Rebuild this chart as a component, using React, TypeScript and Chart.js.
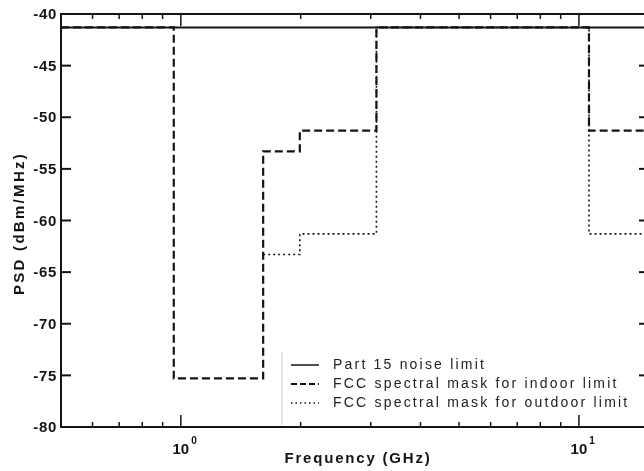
import React, { useEffect, useRef } from 'react';
import { Chart, registerables } from 'chart.js';

Chart.register(...registerables);

// Frequencies in GHz (break points of the step masks)
const PART15_FREQ = [0.5, 15];
const PART15_PSD = [-41.3, -41.3];

const INDOOR_FREQ = [0.5, 0.96, 1.61, 1.99, 3.1, 10.6, 15];
const INDOOR_PSD = [-41.3, -75.3, -53.3, -51.3, -41.3, -51.3, -51.3];

const OUTDOOR_FREQ = [1.61, 1.99, 3.1, 10.6, 15];
const OUTDOOR_PSD = [-63.3, -61.3, -41.3, -61.3, -61.3];

const Y_TICKS = [-40, -45, -50, -55, -60, -65, -70, -75, -80];
const X_MAJOR = [1, 10];
const X_MAJOR_EXP = ['0', '1'];
const X_MINOR = [0.6, 0.7, 0.8, 0.9, 2, 3, 4, 5, 6, 7, 8, 9];

const LEGEND_LABELS = [
  'Part 15 noise limit',
  'FCC spectral mask for indoor limit',
  'FCC spectral mask for outdoor limit',
];
const X_TITLE = 'Frequency (GHz)';
const Y_TITLE = 'PSD (dBm/MHz)';

const INK = '#141414';
const DASH = [8, 4];
const DOT = [2, 3];

const axesPlugin = {
  id: 'customAxes',
  afterDatasetsDraw(chart: any) {
    const { ctx, chartArea: a, scales } = chart;
    const x = scales.x;
    const y = scales.y;
    ctx.save();
    ctx.strokeStyle = INK;
    ctx.fillStyle = INK;
    ctx.lineWidth = 2;
    ctx.setLineDash([]);
    ctx.strokeRect(a.left, a.top, a.right - a.left, a.bottom - a.top);

    const seg = (x1: number, y1: number, x2: number, y2: number) => {
      ctx.beginPath();
      ctx.moveTo(x1, y1);
      ctx.lineTo(x2, y2);
      ctx.stroke();
    };

    // y ticks + labels
    ctx.font = 'bold 15px "Liberation Sans", Arial, sans-serif';
    (ctx as any).letterSpacing = '0.7px';
    ctx.textAlign = 'right';
    ctx.textBaseline = 'middle';
    Y_TICKS.forEach((v) => {
      const py = y.getPixelForValue(v);
      seg(a.left, py, a.left + 10, py);
      seg(a.right - 10, py, a.right, py);
      ctx.fillText(String(v), a.left - 4, py + 1);
    });

    // x ticks
    ctx.lineWidth = 1.5;
    X_MINOR.forEach((v) => {
      const px = x.getPixelForValue(v);
      seg(px, a.bottom, px, a.bottom - 5);
      seg(px, a.top, px, a.top + 5);
    });
    X_MAJOR.forEach((v, i) => {
      const px = x.getPixelForValue(v);
      seg(px, a.bottom, px, a.bottom - 12);
      seg(px, a.top, px, a.top + 12);
      ctx.font = 'bold 15px "Liberation Sans", Arial, sans-serif';
      (ctx as any).letterSpacing = '0px';
      ctx.textAlign = 'center';
      ctx.textBaseline = 'alphabetic';
      ctx.fillText('10', px, a.bottom + 27);
      const w = ctx.measureText('10').width;
      ctx.font = 'bold 10px "Liberation Sans", Arial, sans-serif';
      ctx.textAlign = 'left';
      ctx.fillText(X_MAJOR_EXP[i], px + w / 2 + 2, a.bottom + 17);
    });

    // axis titles
    ctx.font = 'bold 15px "Liberation Sans", Arial, sans-serif';
    (ctx as any).letterSpacing = '1.8px';
    ctx.textAlign = 'center';
    ctx.textBaseline = 'middle';
    ctx.fillText(X_TITLE, (a.left + a.right) / 2 + 3, a.bottom + 32);

    ctx.save();
    ctx.translate(20, (a.top + a.bottom) / 2 + 3);
    ctx.rotate(-Math.PI / 2);
    (ctx as any).letterSpacing = '2.3px';
    ctx.fillText(Y_TITLE, 0, 0);
    ctx.restore();

    // legend
    const lx = 282;
    const rows = [365, 384, 403];
    ctx.strokeStyle = '#c8c8c8';
    ctx.lineWidth = 1;
    seg(lx, 352, lx, 425);
    ctx.strokeStyle = INK;
    ctx.fillStyle = '#222';
    ctx.font = '14px "Liberation Sans", Arial, sans-serif';
    (ctx as any).letterSpacing = '2.2px';
    ctx.textAlign = 'left';
    ctx.textBaseline = 'middle';
    const dashes = [[], [6, 3], [1.5, 3]];
    const widths = [1.5, 1.8, 1.5];
    rows.forEach((ry, i) => {
      ctx.setLineDash(dashes[i]);
      ctx.lineWidth = widths[i];
      seg(291, ry, 319, ry);
      ctx.setLineDash([]);
      ctx.fillText(LEGEND_LABELS[i], 333, ry);
    });
    ctx.restore();
  },
};

const toPoints = (fs: number[], vs: number[]) => fs.map((f, i) => ({ x: f, y: vs[i] }));

export default function App() {
  const ref = useRef<HTMLCanvasElement | null>(null);

  useEffect(() => {
    if (!ref.current) return;
    const chart = new Chart(ref.current, {
      type: 'line',
      data: {
        datasets: [
          {
            label: LEGEND_LABELS[0],
            data: toPoints(PART15_FREQ, PART15_PSD),
            borderColor: INK,
            borderWidth: 2,
            pointRadius: 0,
            stepped: true,
          },
          {
            label: LEGEND_LABELS[1],
            data: toPoints(INDOOR_FREQ, INDOOR_PSD),
            borderColor: INK,
            borderWidth: 2.2,
            borderDash: DASH,
            pointRadius: 0,
            stepped: true,
          },
          {
            label: LEGEND_LABELS[2],
            data: toPoints(OUTDOOR_FREQ, OUTDOOR_PSD),
            borderColor: INK,
            borderWidth: 1.6,
            borderDash: DOT,
            pointRadius: 0,
            stepped: true,
          },
        ],
      },
      options: {
        responsive: false,
        maintainAspectRatio: false,
        devicePixelRatio: 1,
        animation: false,
        layout: { padding: { left: 61, top: 14, right: 11, bottom: 44 } },
        scales: {
          x: { type: 'logarithmic', min: 0.5, max: 15, display: false },
          y: { type: 'linear', min: -80, max: -40, display: false },
        },
        plugins: {
          legend: { display: false },
          tooltip: { enabled: false },
        },
      },
      plugins: [axesPlugin],
    } as any);
    return () => chart.destroy();
  }, []);

  return (
    <div
      style={{
        position: 'fixed',
        left: 0,
        top: 0,
        width: 644,
        height: 471,
        overflow: 'hidden',
        background: '#fff',
      }}
    >
      <canvas ref={ref} width={660} height={471} style={{ display: 'block', width: 660, height: 471 }} />
    </div>
  );
}
